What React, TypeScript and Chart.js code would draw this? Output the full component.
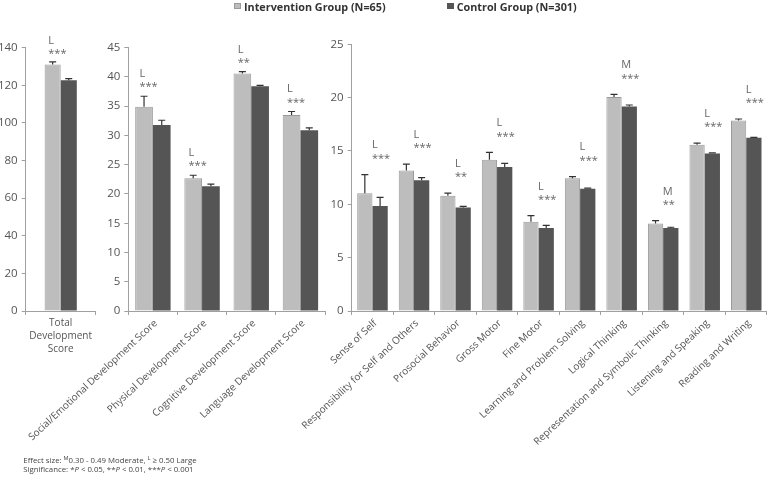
import React, { useEffect, useRef } from 'react';
import { Chart, registerables } from 'chart.js';
Chart.register(...registerables);

const FONT = '"Open Sans", "DejaVu Sans", sans-serif';

// ---------- data ----------
const totalLabels = [['Total', 'Development', 'Score']];
const totalIntervention = [131.1];
const totalControl = [122.7];
const totalInterventionErr = [1.4];
const totalControlErr = [0.9];
const totalEffect = ['L'];
const totalSig = ['***'];

const domainLabels = [
  'Social/Emotional Development Score',
  'Physical Development Score',
  'Cognitive Development Score',
  'Language Development Score',
];
const domainIntervention = [34.9, 22.7, 40.6, 33.5];
const domainControl = [31.8, 21.3, 38.4, 30.9];
const domainInterventionErr = [1.8, 0.5, 0.3, 0.6];
const domainControlErr = [0.8, 0.4, 0.15, 0.4];
const domainEffect = ['L', 'L', 'L', 'L'];
const domainSig = ['***', '***', '**', '***'];

const subLabels = [
  'Sense of Self',
  'Responsibility for Self and Others',
  'Prosocial Behavior',
  'Gross Motor',
  'Fine Motor',
  'Learning and Problem Solving',
  'Logical Thinking',
  'Representation and Symbolic Thinking',
  'Listening and Speaking',
  'Reading and Writing',
];
const subIntervention = [11.04, 13.17, 10.8, 14.18, 8.37, 12.45, 20.07, 8.21, 15.59, 17.85];
const subControl = [9.85, 12.26, 9.7, 13.5, 7.78, 11.45, 19.16, 7.78, 14.77, 16.25];
const subInterventionErr = [1.75, 0.6, 0.25, 0.68, 0.57, 0.15, 0.23, 0.26, 0.15, 0.15];
const subControlErr = [0.8, 0.25, 0.1, 0.33, 0.25, 0.07, 0.15, 0.07, 0.05, 0.03];
const subEffect = ['L', 'L', 'L', 'L', 'L', 'L', 'M', 'M', 'L', 'L'];
const subSig = ['***', '***', '**', '***', '***', '***', '***', '**', '***', '***'];

const seriesNames = ['Intervention Group (N=65)', 'Control Group (N=301)'];

// ---------- styles ----------
const W = 767;
const H = 477;
const INT_FILL = '#bdbdbd';
const INT_BORDER = '#9a9a9a';
const CTRL_FILL = '#555555';
const AXIS = '#a0a0a0';
const TEXT = '#555555';

type Panel = {
  labels: (string | string[])[];
  intervention: number[];
  control: number[];
  intErr: number[];
  ctrlErr: number[];
  effect: string[];
  sig: string[];
  yMax: number;
  yStep: number;
  left: number;
  right: number;
  top: number;
  bottom: number;
  frac: number;
  rotate: boolean;
  annGap: number;
  annDx: number;
};

const panels: Panel[] = [
  {
    labels: totalLabels, intervention: totalIntervention, control: totalControl,
    intErr: totalInterventionErr, ctrlErr: totalControlErr, effect: totalEffect, sig: totalSig,
    yMax: 140, yStep: 20, left: 25.7, right: 95.7, top: 47.7, bottom: 311,
    frac: 0.46, rotate: false, annGap: 11, annDx: -12.4,
  },
  {
    labels: domainLabels, intervention: domainIntervention, control: domainControl,
    intErr: domainInterventionErr, ctrlErr: domainControlErr, effect: domainEffect, sig: domainSig,
    yMax: 45, yStep: 5, left: 128.3, right: 325, top: 47.7, bottom: 311,
    frac: 0.72, rotate: true, annGap: 12, annDx: -13.5,
  },
  {
    labels: subLabels, intervention: subIntervention, control: subControl,
    intErr: subInterventionErr, ctrlErr: subControlErr, effect: subEffect, sig: subSig,
    yMax: 25, yStep: 5, left: 351.7, right: 767, top: 44.3, bottom: 311,
    frac: 0.735, rotate: true, annGap: 19, annDx: -0.5,
  },
];

function overlayPlugin(p: Panel) {
  return {
    id: 'overlay',
    afterDatasetsDraw(chart: any) {
      const ctx = chart.ctx as CanvasRenderingContext2D;
      const ys = chart.scales.y;
      const xs = chart.scales.x;
      const vals = [p.intervention, p.control];
      const errs = [p.intErr, p.ctrlErr];
      ctx.save();
      ctx.strokeStyle = '#333333';
      ctx.lineWidth = 1.2;
      [0, 1].forEach((di) => {
        const meta = chart.getDatasetMeta(di);
        meta.data.forEach((bar: any, i: number) => {
          const top = ys.getPixelForValue(vals[di][i] + errs[di][i]);
          ctx.beginPath();
          ctx.moveTo(bar.x, bar.y);
          ctx.lineTo(bar.x, top);
          ctx.moveTo(bar.x - 3.5, top);
          ctx.lineTo(bar.x + 3.5, top);
          ctx.stroke();
        });
      });
      ctx.fillStyle = '#666666';
      ctx.font = `11px ${FONT}`;
      ctx.textAlign = 'left';
      ctx.textBaseline = 'alphabetic';
      p.effect.forEach((e, i) => {
        const t = Math.min(
          ys.getPixelForValue(p.intervention[i] + p.intErr[i]),
          ys.getPixelForValue(p.control[i] + p.ctrlErr[i])
        );
        const cx = xs.getPixelForValue(i);
        const starC = t - p.annGap;
        const lx = cx + p.annDx;
        ctx.fillText(p.sig[i], lx, starC + 6.2);
        ctx.fillText(e, lx, starC - 11 + 3.9);
      });
      ctx.restore();
    },
  };
}

function PanelChart({ p }: { p: Panel }) {
  const ref = useRef<HTMLCanvasElement>(null);
  useEffect(() => {
    if (!ref.current) return;
    const chart = new Chart(ref.current, {
      type: 'bar',
      data: {
        labels: p.labels as any,
        datasets: [
          {
            label: seriesNames[0],
            data: p.intervention,
            backgroundColor: INT_FILL,
            borderColor: INT_BORDER,
            borderWidth: 1,
            categoryPercentage: p.frac,
            barPercentage: 1,
          },
          {
            label: seriesNames[1],
            data: p.control,
            backgroundColor: CTRL_FILL,
            borderColor: CTRL_FILL,
            borderWidth: 0,
            categoryPercentage: p.frac,
            barPercentage: 1,
          },
        ],
      },
      options: {
        animation: false,
        responsive: false,
        events: [],
        layout: { padding: { left: 0, top: p.top, right: W - p.right, bottom: 0 } },
        plugins: { legend: { display: false }, tooltip: { enabled: false } },
        scales: {
          x: {
            offset: true,
            grid: { display: true, offset: true, drawOnChartArea: false, drawTicks: true, tickLength: 4, color: AXIS },
            border: { display: true, color: AXIS, width: 1 },
            ticks: {
              autoSkip: false,
              minRotation: p.rotate ? 43 : 0,
              maxRotation: p.rotate ? 43 : 0,
              labelOffset: p.rotate ? 3 : 0,
              color: TEXT,
              padding: 2,
              font: { family: FONT, size: 10, lineHeight: 1.3 },
            },
            afterFit: (s: any) => {
              s.height = H - p.bottom;
              s.paddingLeft = 0;
              s.paddingRight = 0;
            },
          },
          y: {
            min: 0,
            max: p.yMax,
            grid: { display: true, drawOnChartArea: false, drawTicks: true, tickLength: 4, color: AXIS },
            border: { display: true, color: AXIS, width: 1 },
            ticks: {
              stepSize: p.yStep,
              color: TEXT,
              padding: 4,
              font: { family: FONT, size: 11.5 },
            },
            afterFit: (s: any) => {
              s.width = p.left;
            },
          },
        },
      },
      plugins: [overlayPlugin(p)],
    } as any);
    return () => chart.destroy();
  }, [p]);
  return (
    <canvas
      ref={ref}
      width={W}
      height={H}
      style={{ position: 'absolute', left: 0, top: 0, width: W, height: H }}
    />
  );
}

export default function App() {
  return (
    <div
      style={{
        position: 'absolute',
        left: 0,
        top: 0,
        width: W,
        height: H,
        background: '#ffffff',
        overflow: 'hidden',
        fontFamily: FONT,
      }}
    >
      {panels.map((p, i) => (
        <PanelChart key={i} p={p} />
      ))}
      {/* legend */}
      <div style={{ position: 'absolute', left: 233.5, top: 2.5, width: 7, height: 6.5, background: INT_FILL, border: `0.5px solid ${INT_BORDER}`, boxSizing: 'border-box' }} />
      <div style={{ position: 'absolute', left: 244, top: -1.5, fontSize: 10.8, fontWeight: 700, color: '#333', whiteSpace: 'nowrap', lineHeight: '15px' }}>
        {seriesNames[0]}
      </div>
      <div style={{ position: 'absolute', left: 446.7, top: 2.5, width: 7, height: 6.5, background: CTRL_FILL }} />
      <div style={{ position: 'absolute', left: 456.7, top: -1.5, fontSize: 10.8, fontWeight: 700, color: '#333', whiteSpace: 'nowrap', lineHeight: '15px' }}>
        {seriesNames[1]}
      </div>
      {/* footnote */}
      <div style={{ position: 'absolute', left: 23.3, top: 455.5, fontSize: 7.8, color: '#444', whiteSpace: 'nowrap', lineHeight: '9px' }}>
        Effect size: <sup style={{ fontSize: 5.5, verticalAlign: 'top', lineHeight: '5px' }}>M</sup>0.30 - 0.49 Moderate,{' '}
        <sup style={{ fontSize: 5.5, verticalAlign: 'top', lineHeight: '5px' }}>L</sup> ≥ 0.50 Large
        <br />
        Significance: *<i>P</i> &lt; 0.05, **<i>P</i> &lt; 0.01, ***<i>P</i> &lt; 0.001
      </div>
    </div>
  );
}
